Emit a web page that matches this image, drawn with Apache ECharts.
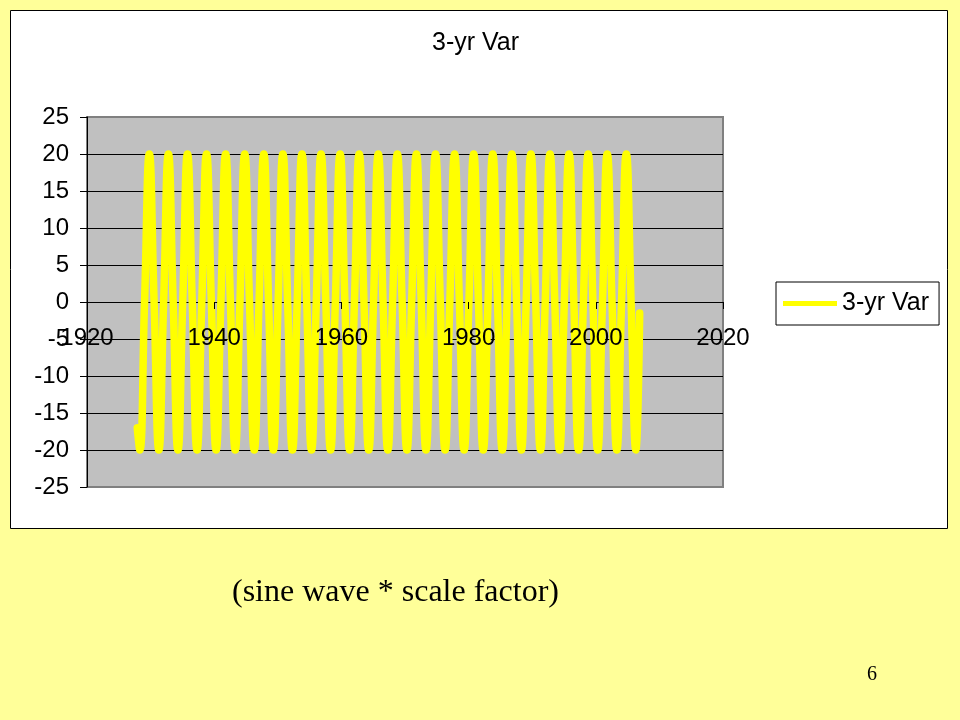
<!DOCTYPE html>
<html>
<head>
<meta charset="utf-8">
<script src="https://cdn.jsdelivr.net/npm/echarts@6/dist/echarts.min.js"></script>
<style>
html,body{margin:0;padding:0;background:#FFFF99;}
#chart{width:960px;height:720px;}
</style>
</head>
<body>
<div id="chart"></div>
<script>
var seriesName = '3-yr Var';
var titleText = '3-yr Var';
var captionText = '(sine wave * scale factor)';
var pageNumber = '6';

var xTicks = [1920, 1940, 1960, 1980, 2000, 2020];
var yTicks = [-25, -20, -15, -10, -5, 0, 5, 10, 15, 20, 25];

var years = [1927.9,
  1928.3, 1929.05, 1929.8, 1930.55,
  1931.3, 1932.05, 1932.8, 1933.55,
  1934.3, 1935.05, 1935.8, 1936.55,
  1937.3, 1938.05, 1938.8, 1939.55,
  1940.3, 1941.05, 1941.8, 1942.55,
  1943.3, 1944.05, 1944.8, 1945.55,
  1946.3, 1947.05, 1947.8, 1948.55,
  1949.3, 1950.05, 1950.8, 1951.55,
  1952.3, 1953.05, 1953.8, 1954.55,
  1955.3, 1956.05, 1956.8, 1957.55,
  1958.3, 1959.05, 1959.8, 1960.55,
  1961.3, 1962.05, 1962.8, 1963.55,
  1964.3, 1965.05, 1965.8, 1966.55,
  1967.3, 1968.05, 1968.8, 1969.55,
  1970.3, 1971.05, 1971.8, 1972.55,
  1973.3, 1974.05, 1974.8, 1975.55,
  1976.3, 1977.05, 1977.8, 1978.55,
  1979.3, 1980.05, 1980.8, 1981.55,
  1982.3, 1983.05, 1983.8, 1984.55,
  1985.3, 1986.05, 1986.8, 1987.55,
  1988.3, 1989.05, 1989.8, 1990.55,
  1991.3, 1992.05, 1992.8, 1993.55,
  1994.3, 1995.05, 1995.8, 1996.55,
  1997.3, 1998.05, 1998.8, 1999.55,
  2000.3, 2001.05, 2001.8, 2002.55,
  2003.3, 2004.05, 2004.8, 2005.55,
  2006.3, 2006.9];

var values = [-17,
  -20, 0, 20, 0,
  -20, 0, 20, 0,
  -20, 0, 20, 0,
  -20, 0, 20, 0,
  -20, 0, 20, 0,
  -20, 0, 20, 0,
  -20, 0, 20, 0,
  -20, 0, 20, 0,
  -20, 0, 20, 0,
  -20, 0, 20, 0,
  -20, 0, 20, 0,
  -20, 0, 20, 0,
  -20, 0, 20, 0,
  -20, 0, 20, 0,
  -20, 0, 20, 0,
  -20, 0, 20, 0,
  -20, 0, 20, 0,
  -20, 0, 20, 0,
  -20, 0, 20, 0,
  -20, 0, 20, 0,
  -20, 0, 20, 0,
  -20, 0, 20, 0,
  -20, 0, 20, 0,
  -20, 0, 20, 0,
  -20, 0, 20, 0,
  -20, 0, 20, 0,
  -20, -1.5];

var points = years.map(function (y, i) { return [y, values[i]]; });

var splitColors = yTicks.map(function (v, i) {
  return (i === 0 || i === yTicks.length - 1) ? '#808080' : '#000000';
});

var font = '"Liberation Sans", Arial, sans-serif';
var chart = echarts.init(document.getElementById('chart'), null, {renderer: 'canvas'});
chart.setOption({
  backgroundColor: '#FFFF99',
  animation: false,
  title: {
    text: titleText,
    left: 427, top: 26,
    textStyle: {fontFamily: font, fontSize: 25, fontWeight: 'normal', color: '#000'}
  },
  legend: {
    left: 776, top: 282,
    data: [{name: seriesName, icon: 'rect'}],
    itemWidth: 54, itemHeight: 5, itemGap: 5,
    padding: [9, 10, 9, 7],
    backgroundColor: '#FFFFFF',
    borderColor: '#000000', borderWidth: 1, borderRadius: 0,
    textStyle: {fontFamily: font, fontSize: 25, color: '#000', lineHeight: 23, padding: [0, 0, 0, 0]}
  },
  grid: {
    left: 87, top: 117, width: 636, height: 370,
    show: true, backgroundColor: '#C0C0C0', borderColor: '#808080', borderWidth: 2,
    containLabel: false
  },
  xAxis: {
    type: 'value',
    min: xTicks[0], max: xTicks[xTicks.length - 1], interval: 20,
    position: 'bottom',
    offset: -185,
    z: 5,
    axisLine: {show: false, onZero: false},
    axisTick: {show: true, inside: false, length: 7, lineStyle: {color: '#000', width: 1}},
    axisLabel: {margin: 24, fontFamily: font, fontSize: 24, color: '#000',
      formatter: function (v) { return String(v); }},
    splitLine: {show: false}
  },
  yAxis: {
    type: 'value',
    min: yTicks[0], max: yTicks[yTicks.length - 1], interval: 5,
    axisLine: {show: true, onZero: false, lineStyle: {color: '#000', width: 1}},
    axisTick: {show: true, inside: false, length: 7, lineStyle: {color: '#000'}},
    axisLabel: {margin: 18, fontFamily: font, fontSize: 24, color: '#000'},
    splitLine: {show: true, lineStyle: {color: splitColors, width: 1}}
  },
  series: [{
    name: seriesName,
    type: 'line',
    data: points,
    smooth: true,
    showSymbol: false,
    symbol: 'none',
    color: '#FFFF00',
    lineStyle: {color: '#FFFF00', width: 7.5, cap: 'round', join: 'round'},
    z: 2
  }],
  graphic: [
    {type: 'rect', z: -10, shape: {x: 10.5, y: 10.5, width: 937, height: 518},
      style: {fill: '#FFFFFF', stroke: '#000000', lineWidth: 1}},
    {type: 'text', left: 232, top: 577,
      style: {text: captionText, font: '32px "Liberation Serif", "Times New Roman", serif', fill: '#000'}},
    {type: 'text', left: 867, top: 665,
      style: {text: pageNumber, font: '20px "Liberation Serif", "Times New Roman", serif', fill: '#000'}}
  ]
});
</script>
</body>
</html>
